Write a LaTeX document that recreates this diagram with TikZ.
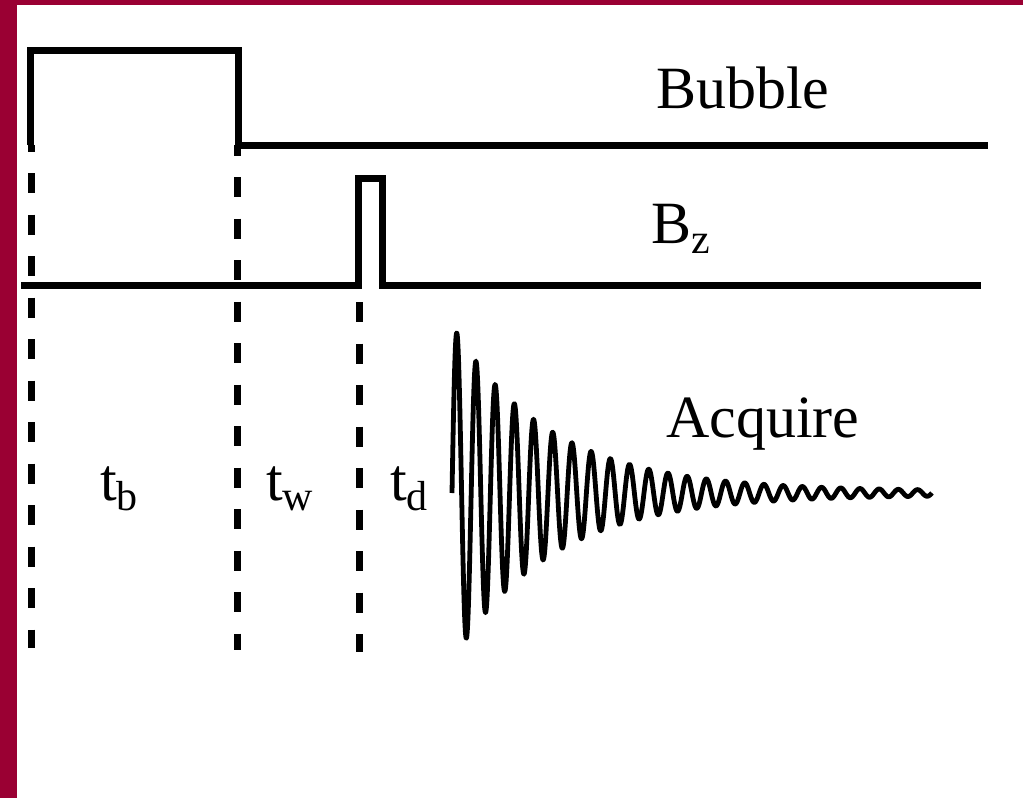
\documentclass[tikz,border=0pt]{standalone}
\usepackage{fontspec}
\setmainfont{Liberation Serif}
\definecolor{frame}{HTML}{9A0033}
\newcommand{\lowsub}[1]{\raisebox{-10pt}{\fontsize{42}{42}\selectfont #1}}
\begin{document}
\begin{tikzpicture}[x=1pt,y=-1pt,
  trace/.style={line width=7pt, line join=miter},
  marker/.style={line width=7pt, dash pattern=on 20pt off 21.5pt},
  fid/.style={line width=4.8pt, line join=round},
  lbl/.style={inner sep=0pt, anchor=base west, font=\fontsize{60}{72}\selectfont}]
\useasboundingbox (0,0) rectangle (1023,798);
\fill[white] (0,0) rectangle (1023,798);
\fill[frame] (0,0) rectangle (1023,5);
\fill[frame] (0,0) rectangle (16.5,798);
% bubble trace
\draw[trace] (30,145) -- (30,50) -- (238,50) -- (238,145) -- (988,145);
% Bz trace
\draw[trace] (21,285) -- (358,285) -- (358,178) -- (382,178) -- (382,285) -- (981,285);
% dashed time markers
\draw[marker, dash phase=13.5pt] (31,145) -- (31,648);
\draw[marker, dash phase=9.5pt] (237,145) -- (237,650);
\draw[marker] (359,302) -- (359,652);
% FID
\draw[fid] plot[domain=0:480, samples=961] ({452+\x}, {493 - (158*exp(-(\x-5)/97)+2)*sin(18.75*\x)});
% labels
\node[lbl] (bubble) at (656,108) {Bubble};
\node[lbl] (bz) at (651,243) {B\lowsub{z}};
\node[lbl] (acq) at (666,437) {Acquire};
\node[lbl] (tb) at (100,500) {t\lowsub{b}};
\node[lbl] (tw) at (266,500) {t\lowsub{w}};
\node[lbl] (td) at (390,500) {t\lowsub{d}};
\end{tikzpicture}
\end{document}
